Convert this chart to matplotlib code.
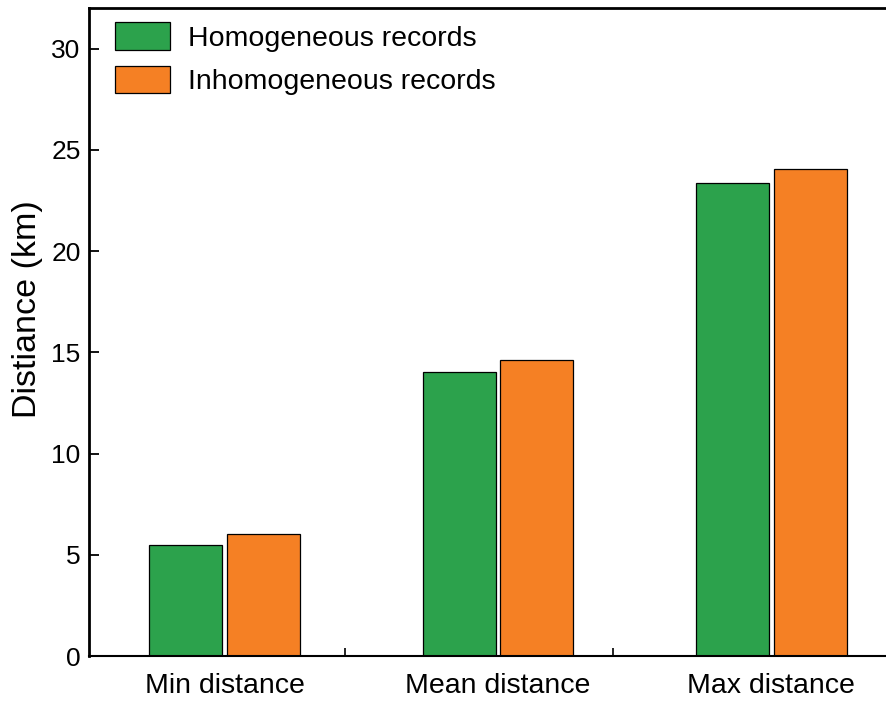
import matplotlib
matplotlib.use("Agg")
import matplotlib.pyplot as plt
import numpy as np

categories = ["Min distance", "Mean distance", "Max distance"]
homogeneous = [5.5, 14.03, 23.35]
inhomogeneous = [6.02, 14.6, 24.05]
series_names = ["Homogeneous records", "Inhomogeneous records"]
yticks = [0, 5, 10, 15, 20, 25, 30]

plt.rcParams['font.family'] = ['Liberation Sans', 'DejaVu Sans']

fig = plt.figure(figsize=(8.86, 7.02), dpi=100)
ax = fig.add_axes([0.1005, 0.0655, 0.8995, 0.923])

x = np.arange(len(categories))
w = 0.267
off = 0.1425
ax.bar(x - off, homogeneous, w, color='#2ca24c', edgecolor='black', linewidth=0.9, label=series_names[0])
ax.bar(x + off, inhomogeneous, w, color='#f58024', edgecolor='black', linewidth=0.9, label=series_names[1])

ax.set_xlim(-0.497, 2.42)
ax.set_ylim(0, 32)
ax.set_yticks(yticks)
ax.set_xticks(x)
ax.set_xticklabels(categories, fontsize=20.5)
ax.set_xticks([0.44, 1.42], minor=True)
ax.tick_params(axis='x', which='major', length=0, pad=12)
ax.tick_params(axis='x', which='minor', direction='in', length=6, width=1.2)
ax.tick_params(axis='y', direction='in', length=7, width=1.3, labelsize=19, pad=6)
ax.set_ylabel("Distiance (km)", fontsize=24.5)
ax.yaxis.set_label_coords(-0.058, 0.535)

for s in ['left', 'top']:
    ax.spines[s].set_linewidth(2.0)
ax.spines['bottom'].set_linewidth(1.5)
ax.spines['right'].set_visible(False)

ax.legend(loc='upper left', frameon=False, fontsize=20.5, handlelength=1.95, handleheight=1.1,
          borderaxespad=0.3, labelspacing=0.5, handletextpad=0.6, bbox_to_anchor=(0.0075, 1.009))

fig.savefig("out.png", dpi=100)
